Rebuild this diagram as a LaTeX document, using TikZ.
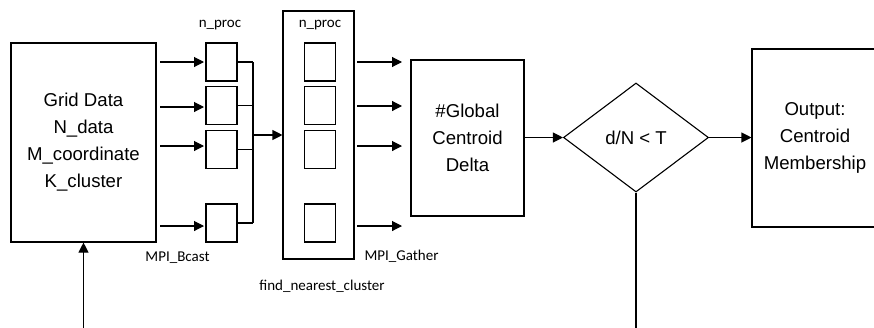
\documentclass[tikz,border=0pt]{standalone}
\usepackage{fontspec}
\usetikzlibrary{shapes.geometric,arrows.meta}
\newfontfamily\boxfont{Liberation Sans}
\newfontfamily\lblfont{Carlito}
\begin{document}
\begin{tikzpicture}[x=1pt,y=-1pt,
  line width=1.1pt,
  >={Triangle[length=10pt,width=10pt]},
  box/.style={draw,rectangle,inner sep=0pt,align=center,
    font=\boxfont\fontsize{18.6}{27}\selectfont},
  cell/.style={draw,rectangle,inner sep=0pt,minimum width=31pt,minimum height=38pt},
  lbl/.style={inner sep=0pt,font=\lblfont\fontsize{15}{18}\selectfont},
  flow/.style={->}]
\clip (0,0) rectangle (874,327);

% input data
\node[box,minimum width=145pt,minimum height=199pt] (grid) at (83.5,142.5)
  {Grid Data\\N\_data\\M\_coordinate\\K\_cluster};

% broadcast targets
\foreach \i/\y in {1/62,2/105.5,3/149.5,4/223}
  \node[cell] (p\i) at (221.5,\y) {};
\node[lbl] (nproc1) at (220,25) {n\_proc};
\node[lbl] (bcast) at (177.5,258) {MPI\_Bcast};
\foreach \i/\y in {1/62,2/107,3/146,4/226}{
  \coordinate (a\i) at (160,\y);
  \coordinate (b\i) at (204,\y);
  \draw[flow] (a\i) -- (b\i);
}

% bus joining the processes
\coordinate (busT) at (253,62);
\coordinate (busB) at (253,223);
\coordinate (busM) at (253,135);
\foreach \i in {1,...,4}
  \draw (p\i.east) -- (p\i.east -| busT);
\draw (busT) -- (busB);

% find_nearest_cluster stage
\node[draw,rectangle,inner sep=0pt,minimum width=71pt,minimum height=248pt] (fnc) at (318.5,135) {};
\draw[flow] (busM) -- (busM -| fnc.west);
\node[lbl] (nproc2) at (320,25) {n\_proc};
\foreach \i/\y in {1/62,2/105.5,3/149.5,4/223}
  \node[cell] (q\i) at (320,\y) {};
\node[lbl] (gather) at (401.5,256) {MPI\_Gather};
\node[lbl] (fnclbl) at (322,286) {find\_nearest\_cluster};
\foreach \i/\y in {1/62,2/106,3/146,4/226}{
  \coordinate (s\i) at (357,\y);
  \coordinate (g\i) at (402,\y);
  \draw[flow] (s\i) -- (g\i);
}

% global centroid delta
\node[box,minimum width=113pt,minimum height=156pt] (glob) at (467.5,138)
  {\#Global\\Centroid\\Delta};

% convergence test
\node[draw,diamond,inner sep=0pt,minimum width=145pt,minimum height=109pt,
  font=\boxfont\fontsize{18.6}{27}\selectfont] (test) at (636,137.5) {d/N < T};
\draw[flow] (glob.east |- test.west) -- (test.west);

% output
\node[box,minimum width=126pt,minimum height=178pt] (out) at (815,138)
  {Output:\\Centroid\\Membership};
\draw[flow] (test.east) -- (test.east -| out.west);

% loop lines
\coordinate (loopR) at (636,330);
\coordinate (loopL) at (83.5,330);
\draw (test.south) -- (loopR);
\draw[flow] (loopL) -- (grid.south);
\end{tikzpicture}
\end{document}
